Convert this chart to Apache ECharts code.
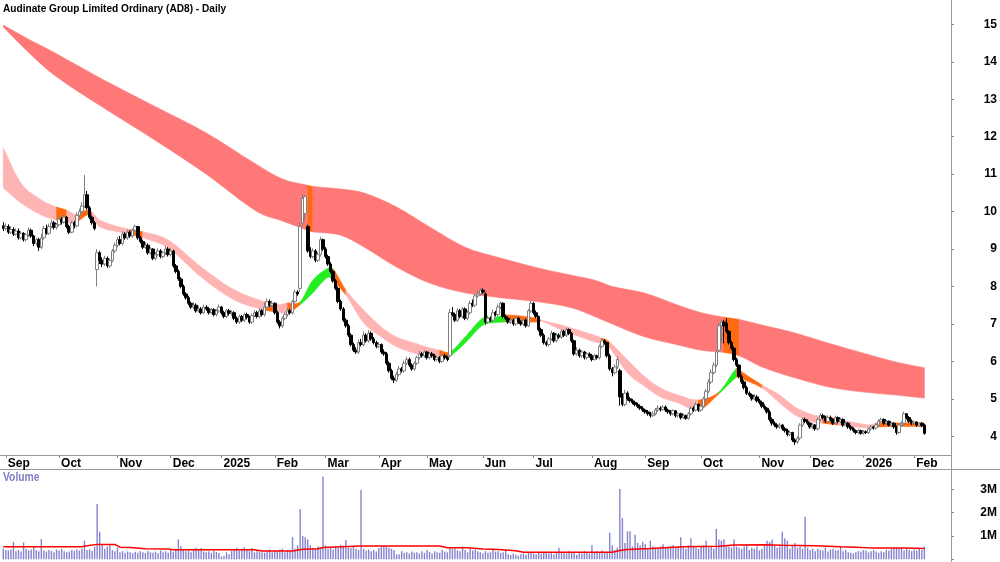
<!DOCTYPE html>
<html><head><meta charset="utf-8">
<script src="https://cdn.jsdelivr.net/npm/echarts@6/dist/echarts.min.js"></script>
<style>html,body{margin:0;padding:0;background:#fff}#c{width:1000px;height:562px}</style>
</head><body><div id="c"></div>
<script>
const TITLE = 'Audinate Group Limited Ordinary (AD8) - Daily';
const monthLabels = ['', 'Sep','Oct','Nov','Dec','2025','Feb','Mar','Apr','May','Jun','Jul','Aug','Sep','Oct','Nov','Dec','2026','Feb'];
const monthDays = [1,21,23,21,20,21,20,21,19,22,20,23,21,22,23,20,21,20,5];
const slotCount = 374;
const priceTicks = [4,5,6,7,8,9,10,11,12,13,14,15];
const volumeTicks = [1,2,3];

const opens = [
9.62,9.55,9.60,9.45,9.52,9.40,9.48,9.30,9.42,9.25,
9.38,9.50,9.35,9.15,9.25,9.05,9.30,9.55,9.42,9.60,
9.70,9.58,9.65,9.80,9.72,9.85,9.60,9.45,9.70,9.62,
9.90,10.00,10.15,10.45,10.10,9.85,9.70,8.45,8.90,8.70,
8.60,8.75,8.55,8.70,8.95,9.10,9.25,9.15,9.40,9.30,
9.45,9.35,9.50,9.60,9.30,9.20,9.05,9.10,8.90,9.00,
8.75,8.85,8.95,8.80,8.90,9.00,8.85,8.95,8.55,8.40,
8.20,8.00,7.80,7.70,7.55,7.45,7.50,7.35,7.40,7.30,
7.45,7.40,7.30,7.38,7.25,7.35,7.45,7.30,7.20,7.35,
7.28,7.30,7.15,7.05,7.20,7.10,7.25,7.18,7.05,7.22,
7.30,7.20,7.35,7.25,7.45,7.60,7.50,7.55,7.30,7.05,
6.95,7.15,7.25,7.35,7.30,7.60,7.85,7.95,9.70,9.95,
9.60,8.95,8.80,8.95,8.70,8.85,9.25,9.00,8.80,8.60,
8.40,8.15,7.95,7.60,7.40,7.10,6.95,6.70,6.45,6.30,
6.25,6.50,6.45,6.70,6.55,6.75,6.60,6.50,6.40,6.45,
6.25,6.20,5.95,5.75,5.55,5.50,5.65,5.80,5.75,5.95,
6.05,5.90,5.80,5.95,6.10,6.20,6.15,6.25,6.10,6.20,
6.15,6.05,6.10,6.00,6.15,6.10,6.15,7.30,7.25,7.10,
7.35,7.20,7.40,7.15,7.30,7.55,7.50,7.75,7.80,7.90,
7.80,7.05,7.15,7.10,7.30,7.25,7.45,7.55,7.20,7.15,
7.05,7.10,7.00,7.15,7.05,7.00,7.10,6.95,7.35,7.55,
7.30,7.20,6.85,6.70,6.50,6.45,6.60,6.75,6.55,6.70,
6.65,6.80,6.70,6.85,6.75,6.55,6.20,6.30,6.15,6.25,
6.10,6.20,6.15,6.05,6.15,6.10,6.40,6.55,6.50,6.15,
5.80,5.70,5.85,5.75,5.05,4.85,5.15,5.00,4.95,4.90,
4.85,4.80,4.75,4.70,4.65,4.60,4.55,4.60,4.70,4.75,
4.72,4.78,4.70,4.65,4.60,4.68,4.55,4.60,4.50,4.55,
4.48,4.60,4.75,4.70,4.85,4.70,4.80,5.00,5.20,5.45,
5.70,5.90,6.30,6.95,7.05,7.02,6.80,6.50,6.35,6.05,
5.90,5.60,5.45,5.30,5.15,5.10,5.00,5.05,4.95,4.90,
4.80,4.75,4.65,4.45,4.35,4.30,4.25,4.30,4.20,4.15,
4.05,4.10,3.90,3.85,3.95,4.30,4.45,4.40,4.35,4.25,
4.30,4.20,4.45,4.55,4.50,4.40,4.50,4.45,4.35,4.50,
4.40,4.45,4.30,4.35,4.25,4.20,4.15,4.10,4.15,4.08,
4.12,4.10,4.20,4.25,4.22,4.30,4.40,4.45,4.35,4.40,
4.30,4.35,4.25,4.10,4.30,4.35,4.60,4.50,4.40,4.35,
4.38,4.30,4.35,4.30];

const closes = [
9.55,9.60,9.45,9.52,9.40,9.48,9.30,9.42,9.25,9.38,
9.50,9.35,9.15,9.25,9.05,9.30,9.55,9.42,9.60,9.70,
9.58,9.65,9.80,9.72,9.85,9.60,9.45,9.70,9.62,9.90,
10.00,10.15,10.45,10.10,9.85,9.70,9.55,8.90,8.70,8.60,
8.75,8.55,8.70,8.95,9.10,9.25,9.15,9.40,9.30,9.45,
9.35,9.50,9.60,9.30,9.20,9.05,9.10,8.90,9.00,8.75,
8.85,8.95,8.80,8.90,9.00,8.85,8.95,8.55,8.40,8.20,
8.00,7.80,7.70,7.55,7.45,7.50,7.35,7.40,7.30,7.45,
7.40,7.30,7.38,7.25,7.35,7.45,7.30,7.20,7.35,7.28,
7.30,7.15,7.05,7.20,7.10,7.25,7.18,7.05,7.22,7.30,
7.20,7.35,7.25,7.45,7.60,7.50,7.55,7.30,7.05,6.95,
7.15,7.25,7.35,7.30,7.60,7.85,7.80,9.60,10.35,10.40,
8.95,8.80,8.95,8.70,8.85,9.25,9.00,8.80,8.60,8.40,
8.15,7.95,7.60,7.40,7.10,6.95,6.70,6.45,6.30,6.25,
6.50,6.45,6.70,6.55,6.75,6.60,6.50,6.40,6.45,6.25,
6.20,5.95,5.75,5.55,5.50,5.65,5.80,5.75,5.95,6.05,
5.90,5.80,5.95,6.10,6.20,6.15,6.25,6.10,6.20,6.15,
6.05,6.10,6.00,6.15,6.10,6.05,7.30,7.25,7.10,7.35,
7.20,7.40,7.15,7.30,7.55,7.50,7.75,7.80,7.90,7.85,
7.05,7.15,7.10,7.30,7.25,7.45,7.55,7.20,7.15,7.05,
7.10,7.00,7.15,7.05,7.00,7.10,6.95,7.35,7.55,7.30,
7.20,6.85,6.70,6.50,6.45,6.60,6.75,6.55,6.70,6.65,
6.80,6.70,6.85,6.75,6.55,6.20,6.30,6.15,6.25,6.10,
6.20,6.15,6.05,6.15,6.10,6.40,6.55,6.50,6.15,5.80,
5.70,5.85,6.05,5.05,4.85,5.15,5.00,4.95,4.90,4.85,
4.80,4.75,4.70,4.65,4.60,4.55,4.60,4.70,4.75,4.72,
4.78,4.70,4.65,4.60,4.68,4.55,4.60,4.50,4.55,4.48,
4.60,4.75,4.70,4.85,4.70,4.80,5.00,5.20,5.45,5.70,
5.90,6.25,6.95,7.05,6.95,6.80,6.50,6.35,6.05,5.90,
5.60,5.45,5.30,5.15,5.10,5.00,5.05,4.95,4.90,4.80,
4.75,4.65,4.45,4.35,4.30,4.25,4.30,4.20,4.15,4.05,
4.10,3.90,3.85,3.95,4.30,4.45,4.40,4.35,4.25,4.30,
4.20,4.45,4.55,4.50,4.40,4.50,4.45,4.35,4.50,4.40,
4.45,4.30,4.35,4.25,4.20,4.15,4.10,4.15,4.08,4.12,
4.10,4.20,4.25,4.22,4.30,4.40,4.45,4.35,4.40,4.30,
4.35,4.25,4.10,4.30,4.35,4.60,4.50,4.40,4.35,4.38,
4.30,4.35,4.28,4.08];

const highs = [
9.72,9.68,9.66,9.60,9.58,9.55,9.55,9.48,9.45,9.42,
9.58,9.55,9.38,9.30,9.30,9.40,9.62,9.65,9.68,9.78,
9.75,9.70,9.88,9.85,9.90,9.88,9.65,9.75,9.75,9.98,
10.08,10.25,10.98,10.55,10.15,9.90,9.75,9.00,8.95,8.78,
8.82,8.80,8.75,9.00,9.18,9.32,9.35,9.48,9.45,9.52,
9.50,9.55,9.65,9.62,9.35,9.25,9.18,9.15,9.05,9.02,
8.92,9.02,9.00,8.95,9.08,9.05,9.02,8.98,8.60,8.45,
8.25,8.05,7.85,7.75,7.60,7.58,7.55,7.48,7.45,7.52,
7.50,7.45,7.42,7.42,7.40,7.52,7.48,7.35,7.40,7.40,
7.36,7.34,7.20,7.25,7.24,7.30,7.30,7.22,7.28,7.36,
7.35,7.42,7.40,7.55,7.68,7.65,7.62,7.58,7.35,7.10,
7.20,7.30,7.42,7.40,7.65,7.92,7.90,9.70,10.45,10.45,
9.65,9.05,9.02,9.00,8.92,9.33,9.28,9.05,8.85,8.65,
8.45,8.20,8.00,7.65,7.45,7.15,7.00,6.75,6.50,6.38,
6.58,6.60,6.80,6.75,6.84,6.80,6.65,6.55,6.52,6.48,
6.32,6.25,6.00,5.80,5.62,5.72,5.88,5.85,6.02,6.12,
6.10,5.95,6.00,6.15,6.28,6.25,6.30,6.28,6.25,6.25,
6.20,6.15,6.14,6.20,6.20,6.14,7.40,7.45,7.30,7.42,
7.40,7.46,7.44,7.36,7.62,7.65,7.80,7.88,7.98,7.95,
7.84,7.22,7.20,7.38,7.35,7.52,7.60,7.58,7.25,7.20,
7.15,7.14,7.20,7.18,7.10,7.15,7.14,7.40,7.64,7.58,
7.36,7.22,6.90,6.75,6.55,6.65,6.82,6.78,6.75,6.75,
6.86,6.84,6.90,6.88,6.78,6.58,6.38,6.34,6.30,6.28,
6.25,6.24,6.20,6.20,6.18,6.45,6.62,6.60,6.52,6.20,
5.85,5.92,6.13,5.80,5.15,5.24,5.20,5.05,5.00,4.95,
4.90,4.85,4.80,4.74,4.70,4.65,4.66,4.76,4.83,4.80,
4.83,4.82,4.74,4.70,4.72,4.70,4.64,4.63,4.60,4.58,
4.65,4.80,4.80,4.92,4.88,4.85,5.06,5.26,5.52,5.78,
5.98,6.32,7.02,7.12,7.10,7.15,6.84,6.55,6.40,6.10,
5.92,5.65,5.50,5.35,5.20,5.14,5.12,5.10,5.00,4.95,
4.85,4.78,4.70,4.50,4.40,4.35,4.36,4.33,4.25,4.20,
4.15,4.12,3.95,4.00,4.35,4.50,4.50,4.45,4.38,4.35,
4.33,4.50,4.62,4.60,4.55,4.56,4.55,4.48,4.55,4.53,
4.50,4.48,4.40,4.38,4.30,4.24,4.18,4.20,4.18,4.16,
4.16,4.24,4.30,4.28,4.35,4.45,4.50,4.48,4.44,4.42,
4.38,4.37,4.28,4.34,4.40,4.66,4.62,4.54,4.45,4.42,
4.40,4.38,4.38,4.32];

const lows = [
9.48,9.50,9.40,9.40,9.35,9.36,9.25,9.26,9.20,9.20,
9.32,9.30,9.08,9.10,8.95,9.00,9.25,9.38,9.38,9.55,
9.52,9.52,9.60,9.65,9.68,9.55,9.40,9.42,9.55,9.58,
9.85,9.95,10.10,10.05,9.80,9.65,9.50,8.00,8.60,8.52,
8.55,8.50,8.50,8.65,8.90,9.05,9.10,9.10,9.25,9.25,
9.30,9.30,9.45,9.25,9.15,9.00,9.00,8.85,8.85,8.70,
8.70,8.80,8.75,8.75,8.85,8.80,8.80,8.50,8.35,8.15,
7.95,7.75,7.65,7.50,7.40,7.40,7.30,7.30,7.25,7.26,
7.35,7.25,7.26,7.20,7.20,7.30,7.25,7.15,7.15,7.22,
7.22,7.10,7.00,7.00,7.05,7.05,7.12,7.00,7.00,7.18,
7.15,7.15,7.20,7.20,7.40,7.45,7.45,7.25,7.00,6.88,
6.90,7.10,7.20,7.25,7.25,7.55,7.75,7.85,9.60,9.75,
8.90,8.75,8.75,8.65,8.65,8.80,8.95,8.75,8.55,8.35,
8.10,7.90,7.55,7.35,7.05,6.90,6.65,6.40,6.25,6.20,
6.20,6.40,6.40,6.50,6.50,6.55,6.45,6.35,6.35,6.20,
6.15,5.90,5.70,5.50,5.42,5.45,5.60,5.70,5.70,5.90,
5.85,5.75,5.75,5.90,6.05,6.10,6.10,6.05,6.05,6.10,
6.00,6.00,5.95,5.96,6.05,6.00,6.10,7.20,7.05,7.05,
7.15,7.15,7.10,7.10,7.25,7.45,7.45,7.70,7.75,7.80,
6.98,7.00,7.05,7.05,7.20,7.20,7.40,7.15,7.10,7.00,
7.00,6.95,6.95,7.00,6.95,6.95,6.90,6.92,7.30,7.25,
7.15,6.80,6.65,6.45,6.40,6.40,6.55,6.50,6.50,6.60,
6.60,6.65,6.65,6.70,6.50,6.15,6.15,6.10,6.10,6.05,
6.05,6.10,6.00,6.02,6.05,6.05,6.35,6.45,6.10,5.75,
5.60,5.65,5.80,4.82,4.80,4.80,4.95,4.90,4.85,4.80,
4.75,4.70,4.65,4.60,4.55,4.50,4.52,4.56,4.65,4.66,
4.68,4.65,4.60,4.55,4.56,4.50,4.50,4.45,4.46,4.44,
4.44,4.55,4.65,4.66,4.65,4.65,4.75,4.95,5.15,5.40,
5.65,5.85,6.25,6.50,6.48,6.75,6.45,6.30,6.00,5.85,
5.55,5.40,5.25,5.10,5.05,4.95,4.96,4.90,4.85,4.75,
4.70,4.60,4.40,4.28,4.25,4.20,4.20,4.15,4.10,4.00,
4.00,3.85,3.77,3.80,3.90,4.25,4.35,4.30,4.20,4.20,
4.15,4.15,4.40,4.45,4.35,4.35,4.40,4.30,4.32,4.35,
4.35,4.25,4.28,4.20,4.15,4.10,4.05,4.06,4.04,4.04,
4.06,4.06,4.15,4.18,4.18,4.26,4.35,4.30,4.30,4.26,
4.26,4.20,4.04,4.06,4.25,4.30,4.45,4.35,4.30,4.30,
4.25,4.26,4.24,4.04];

const volumes = [
0.45,0.40,0.38,0.42,0.75,0.35,0.40,0.33,0.72,0.45,
0.38,0.42,0.55,0.40,0.35,0.87,0.38,0.33,0.40,0.36,
0.30,0.42,0.38,0.45,0.35,0.30,0.33,0.40,0.36,0.42,
0.38,0.45,0.80,0.40,0.43,0.36,0.55,2.37,1.18,0.60,
0.45,0.55,0.62,0.40,0.35,0.50,0.30,0.35,0.28,0.33,
0.30,0.26,0.32,0.28,0.34,0.30,0.27,0.36,0.30,0.28,
0.33,0.26,0.38,0.30,0.35,0.28,0.40,0.32,0.45,0.85,
0.57,0.40,0.35,0.38,0.30,0.45,0.50,0.42,0.48,0.33,
0.30,0.35,0.28,0.38,0.32,0.27,0.12,0.15,0.30,0.22,
0.35,0.40,0.50,0.38,0.45,0.52,0.40,0.35,0.48,0.30,
0.38,0.33,0.30,0.28,0.35,0.42,0.30,0.38,0.35,0.42,
0.45,0.30,0.40,0.35,0.95,0.45,0.60,2.15,1.00,0.95,
0.85,0.60,0.50,0.45,0.55,0.48,3.55,0.60,0.45,0.50,
0.42,0.55,0.50,0.62,0.58,0.83,0.50,0.48,0.55,0.45,
0.40,2.97,0.45,0.38,0.42,0.35,0.40,0.33,0.48,0.55,
0.60,0.55,0.50,0.45,0.40,0.20,0.22,0.35,0.28,0.30,
0.25,0.33,0.28,0.30,0.25,0.35,0.28,0.40,0.32,0.25,
0.35,0.30,0.28,0.40,0.33,0.30,0.52,0.45,0.50,0.38,
0.35,0.55,0.40,0.30,0.45,0.38,0.42,0.35,0.30,0.25,
0.35,0.28,0.30,0.40,0.33,0.35,0.28,0.30,0.40,0.22,
0.18,0.25,0.20,0.15,0.22,0.25,0.20,0.28,0.30,0.25,
0.22,0.30,0.25,0.28,0.30,0.25,0.28,0.22,0.30,0.50,
0.28,0.30,0.25,0.35,0.28,0.32,0.20,0.30,0.25,0.35,
0.30,0.25,0.60,0.30,0.35,0.28,0.38,0.32,0.30,1.14,
0.60,0.40,0.50,3.02,1.77,0.70,1.20,1.20,0.55,1.05,
0.70,0.60,0.75,0.65,0.45,0.80,0.55,0.50,0.45,0.55,
0.65,0.48,0.50,0.55,0.60,0.52,0.55,0.95,0.50,0.45,
0.60,0.90,0.55,0.50,0.45,0.55,0.60,0.80,0.50,0.55,
0.45,1.30,0.85,0.80,0.85,0.60,0.55,0.50,0.85,0.55,
0.50,0.45,0.55,0.60,0.40,0.50,0.45,0.55,0.38,0.45,
0.60,0.80,0.75,0.85,0.60,0.50,0.55,1.18,0.90,0.80,
0.45,0.60,0.70,0.50,0.55,0.45,1.82,0.50,0.40,0.45,
0.35,0.45,0.40,0.38,0.50,0.33,0.42,0.45,0.38,0.40,
0.55,0.35,0.40,0.30,0.28,0.25,0.30,0.35,0.33,0.40,
0.38,0.30,0.35,0.40,0.33,0.28,0.35,0.30,0.40,0.38,
0.45,0.50,0.48,0.45,0.50,0.38,0.45,0.40,0.35,0.42,
0.38,0.45,0.40,0.55];

// volume moving average, [bar index, value in millions]
const volumeAvg = [
[0,0.54],[31,0.54],[33,0.58],[37,0.64],[44,0.64],[46,0.52],[50,0.51],[56,0.45],[65,0.44],[67,0.41],
[99,0.41],[102,0.36],[114,0.36],[118,0.43],[124,0.45],[126,0.51],[141,0.57],[172,0.57],[175,0.50],
[183,0.50],[189,0.44],[195,0.42],[202,0.37],[205,0.30],[240,0.30],[243,0.38],[246,0.42],[255,0.46],
[268,0.54],[282,0.56],[288,0.61],[300,0.62],[307,0.60],[320,0.58],[330,0.54],[336,0.52],[342,0.49],
[355,0.48],[363,0.46]];

// long-term band: [bar index, upper, lower, colour key of following segment]
const longBand = [
[0,14.98,14.93,'r'],[10,14.60,14.25,'r'],[20,14.25,13.65,'r'],[40,13.50,12.75,'r'],[60,12.80,11.90,'r'],
[80,12.10,11.00,'r'],[100,11.25,10.00,'r'],[110,10.87,9.75,'r'],[120,10.70,9.50,'o'],[122,10.67,9.46,'r'],
[133,10.60,9.37,'r'],[142,10.50,9.06,'r'],[155,10.12,8.52,'r'],[168,9.59,8.09,'r'],[182,9.05,7.83,'r'],
[196,8.76,7.70,'r'],[211,8.49,7.59,'r'],[224,8.30,7.43,'r'],[233,8.17,7.20,'r'],[240,8.00,7.00,'r'],
[253,7.82,6.65,'r'],[266,7.50,6.44,'r'],[275,7.30,6.30,'r'],[284,7.18,6.24,'o'],[290,7.12,6.15,'r'],
[299,6.97,5.85,'r'],[312,6.76,5.56,'r'],[325,6.49,5.32,'r'],[339,6.22,5.18,'r'],[352,5.98,5.10,'r'],
[363,5.83,5.02,'r']];

// short-term band
const shortBand = [
[0,11.70,10.63,'p'],[7,10.76,10.23,'p'],[15,10.31,9.91,'p'],[21,10.12,9.77,'o'],[25,10.04,9.70,'p'],
[29,9.91,9.72,'o'],[33,10.04,9.91,'o'],[35,9.98,9.86,'p'],[38,9.77,9.59,'p'],[50,9.52,9.40,'o'],
[55,9.46,9.30,'p'],[65,9.24,9.03,'p'],[78,8.52,8.25,'p'],[91,7.91,7.64,'p'],[103,7.59,7.37,'o'],
[108,7.51,7.32,'p'],[112,7.56,7.29,'o'],[117,7.59,7.51,'g'],[122,8.17,7.83,'g'],[128,8.49,8.25,'g'],
[130,8.47,8.15,'o'],[135,7.91,7.77,'p'],[142,7.37,7.03,'p'],[149,6.92,6.65,'p'],[155,6.65,6.39,'p'],
[162,6.49,6.22,'p'],[168,6.36,6.12,'p'],[172,6.30,6.12,'o'],[176,6.25,6.14,'g'],[182,6.65,6.49,'g'],
[189,7.16,6.97,'g'],[193,7.16,7.03,'g'],[198,7.24,7.05,'o'],[210,7.16,7.05,'o'],[212,7.10,7.08,'p'],
[220,6.97,6.84,'p'],[233,6.70,6.52,'p'],[236,6.62,6.47,'o'],[239,6.52,6.36,'p'],[246,6.04,5.69,'p'],
[253,5.58,5.32,'p'],[259,5.29,5.05,'p'],[266,5.10,4.89,'p'],[274,4.97,4.70,'o'],[282,5.18,5.13,'g'],
[289,5.82,5.58,'o'],[290,5.77,5.56,'o'],[299,5.37,5.29,'p'],[306,5.10,4.89,'p'],[312,4.78,4.57,'p'],
[319,4.57,4.38,'p'],[323,4.54,4.35,'o'],[329,4.46,4.30,'p'],[341,4.30,4.22,'p'],[344,4.35,4.25,'o'],
[363,4.35,4.27,'o']];

const longColors = {r:'#ff7878', o:'#ff6a10'};
const shortColors = {p:'#ffb4b4', o:'#ff6a10', g:'#22ee22'};

// ---- build ----
const labelAt = {};
(function(){ let idx = 0; monthDays.forEach((d,k)=>{ if (monthLabels[k]) labelAt[idx] = monthLabels[k]; idx += d; }); })();
const categories = [];
for (let i = 0; i < slotCount; i++) categories.push(String(i));
const candleData = opens.map((o,i)=>[o, closes[i], lows[i], highs[i]]);

const FONT = "'Liberation Sans',Arial,sans-serif";

// smooth band: edges drawn as Hermite curves through the band's own points
function bandSeries(points, colors, z) {
  return {
    type: 'custom', xAxisIndex: 0, yAxisIndex: 0, z: z, silent: true, clip: true,
    data: [[0, points[0][1]]],
    renderItem: function (params, api) {
      const n = points.length;
      const T = points.map(p => api.coord([p[0], p[1]]));
      const B = points.map(p => api.coord([p[0], p[2]]));
      const slope = P => P.map((p, k) => {
        const a = P[Math.max(0, k - 1)], b = P[Math.min(n - 1, k + 1)];
        const dx = b[0] - a[0];
        return dx ? (b[1] - a[1]) / dx : 0;
      });
      const mT = slope(T), mB = slope(B);
      const f = v => v.toFixed(2);
      const seg = (P, m, k0, k1) => {
        const dx = P[k1][0] - P[k0][0];
        return 'C' + f(P[k0][0] + dx / 3) + ',' + f(P[k0][1] + m[k0] * dx / 3) + ' ' +
               f(P[k1][0] - dx / 3) + ',' + f(P[k1][1] - m[k1] * dx / 3) + ' ' +
               f(P[k1][0]) + ',' + f(P[k1][1]);
      };
      const children = [];
      let start = 0;
      for (let k = 1; k < n; k++) {
        if (k === n - 1 || points[k][3] !== points[start][3]) {
          let d = 'M' + f(T[start][0]) + ',' + f(T[start][1]);
          for (let j = start; j < k; j++) d += seg(T, mT, j, j + 1);
          d += 'L' + f(B[k][0]) + ',' + f(B[k][1]);
          for (let j = k; j > start; j--) d += seg(B, mB, j, j - 1);
          d += 'Z';
          const col = colors[points[start][3]];
          children.push({ type: 'path', shape: { pathData: d },
            style: { fill: col, stroke: col, lineWidth: 0.6 } });
          start = k;
        }
      }
      return { type: 'group', children: children };
    }
  };
}

const chart = echarts.init(document.getElementById('c'), null, {renderer: 'canvas'});
const isMonth = (idx) => labelAt[idx] !== undefined;

chart.setOption({
  animation: false,
  backgroundColor: '#ffffff',
  grid: [
    { left: 2, right: 49, top: 0, height: 455 },
    { left: 2, right: 49, top: 470, height: 89.3 }
  ],
  xAxis: [
    { type: 'category', gridIndex: 0, data: categories, boundaryGap: true,
      axisLine: { show: false },
      axisTick: { show: true, interval: isMonth, alignWithLabel: true, length: 3, lineStyle: { color: '#888' } },
      axisLabel: { show: true, interval: isMonth, formatter: (v, idx) => labelAt[idx] || '',
        align: 'left', margin: 3, padding: [0,0,0,2], color: '#000', fontWeight: 'bold', fontSize: 12, fontFamily: FONT },
      splitLine: { show: false } },
    { type: 'category', gridIndex: 1, data: categories, boundaryGap: true,
      axisLine: { show: false }, axisTick: { show: false }, axisLabel: { show: false }, splitLine: { show: false } }
  ],
  yAxis: [
    { type: 'value', gridIndex: 0, position: 'right', min: 3.5, max: 15.65,
      axisLine: { show: false }, splitLine: { show: false },
      axisTick: { show: true, length: 3, customValues: priceTicks, lineStyle: { color: '#888' } },
      axisLabel: { show: true, customValues: priceTicks, margin: 46, align: 'right', color: '#000',
        fontWeight: 'bold', fontSize: 12, fontFamily: FONT } },
    { type: 'value', gridIndex: 1, position: 'right', min: 0, max: 3.83,
      axisLine: { show: false }, splitLine: { show: false },
      axisTick: { show: true, length: 3, customValues: [0].concat(volumeTicks), lineStyle: { color: '#888' } },
      axisLabel: { show: true, customValues: volumeTicks, formatter: v => v + 'M', margin: 46, align: 'right',
        color: '#000', fontWeight: 'bold', fontSize: 12, fontFamily: FONT } }
  ],
  series: [
    bandSeries(longBand, longColors, 1),
    bandSeries(shortBand, shortColors, 2),
    { type: 'candlestick', xAxisIndex: 0, yAxisIndex: 0, data: candleData, z: 5, barWidth: 3,
      itemStyle: { color: '#ffffff', color0: '#000000', borderColor: '#808080', borderColor0: '#000000', borderWidth: 1 } },
    { type: 'bar', xAxisIndex: 1, yAxisIndex: 1, data: volumes, barWidth: 1.4, z: 3,
      itemStyle: { color: '#8383cf' } },
    { type: 'line', xAxisIndex: 1, yAxisIndex: 1, data: volumeAvg, showSymbol: false, symbol: 'none', z: 4,
      lineStyle: { color: '#ff0000', width: 1.5 } }
  ],
  graphic: [
    { type: 'text', x: 3, y: 3, scaleX: 0.92, style: { text: TITLE, font: 'bold 11px ' + FONT, fill: '#000', verticalAlign: 'top' } },
    { type: 'text', x: 3, y: 472, scaleX: 0.86, style: { text: 'Volume', font: 'bold 12px ' + FONT, fill: '#7f7fc4', verticalAlign: 'top' } },
    { type: 'line', shape: { x1: 0, y1: 455.5, x2: 951, y2: 455.5 }, style: { stroke: '#999', lineWidth: 1 } },
    { type: 'line', shape: { x1: 0, y1: 469.5, x2: 1000, y2: 469.5 }, style: { stroke: '#999', lineWidth: 1 } },
    { type: 'line', shape: { x1: 951.5, y1: 0, x2: 951.5, y2: 562 }, style: { stroke: '#999', lineWidth: 1 } }
  ]
});
</script></body></html>
